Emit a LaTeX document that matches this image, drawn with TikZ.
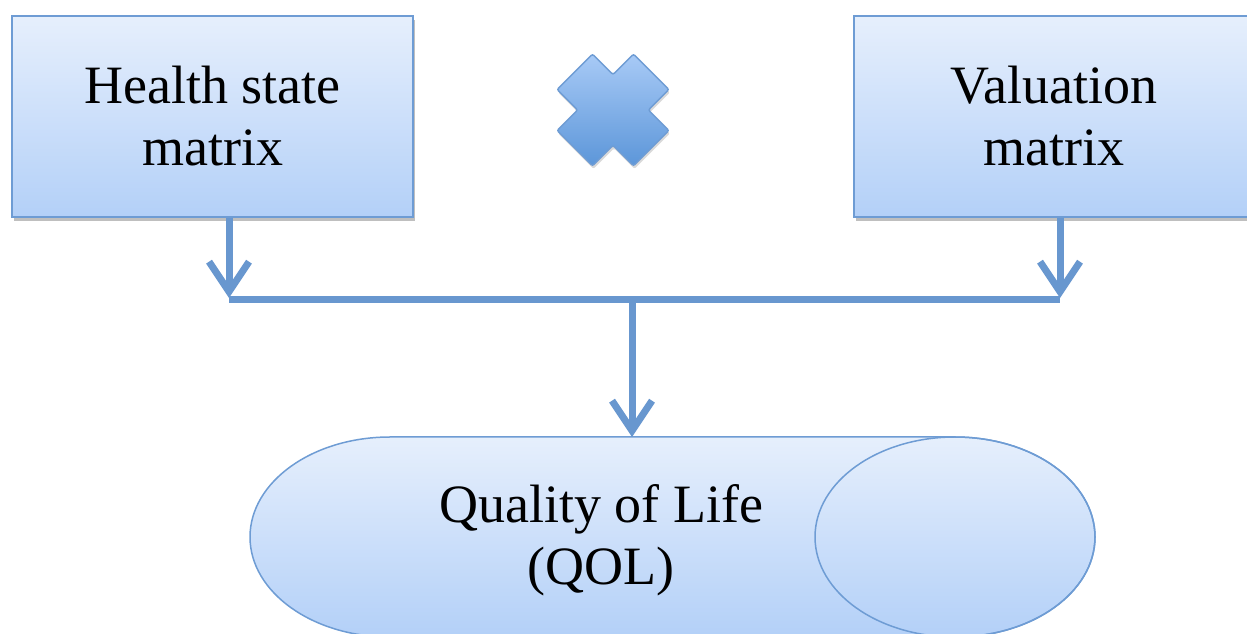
\documentclass[tikz,border=0pt]{standalone}
\usepackage{fontspec}
\setmainfont{Liberation Serif}
\usetikzlibrary{arrows.meta,shadows}
\definecolor{lineblue}{HTML}{6897CF}
\definecolor{edgeblue}{HTML}{6E9CD4}
\definecolor{filltop}{HTML}{E6EFFC}
\definecolor{fillbot}{HTML}{B3D0F8}
\definecolor{crosstop}{HTML}{A8CAF6}
\definecolor{crossbot}{HTML}{5C96D9}
\tikzset{
  matbox/.style={draw=edgeblue, line width=2pt, top color=filltop, bottom color=fillbot,
    drop shadow={shadow xshift=2pt, shadow yshift=-4pt, opacity=0.25, fill=black},
    align=center, font=\fontsize{54}{62}\selectfont},
  lbl/.style={align=center, font=\fontsize{54}{62}\selectfont},
  conn/.style={draw=lineblue, line width=7pt},
  arr/.style={conn, -{Straight Barb[length=30pt,width=40pt]}},
}
\begin{document}
\begin{tikzpicture}[x=1pt,y=1pt]
\useasboundingbox (0,0) rectangle (1247,634);
\fill[white] (0,0) rectangle (1247,634);
% boxes
\node[matbox, minimum width=401pt, minimum height=201pt, inner sep=0pt] (hs) at (212.5,517.5) {Health state\\matrix};
\node[matbox, minimum width=400pt, minimum height=201pt, inner sep=0pt] (vm) at (1054,517.5) {Valuation\\matrix};
% cross
\node[inner sep=0pt, minimum size=1pt] (x) at (613,524) {};
\begin{scope}[shift={(x.center)}]
\shade[top color=crosstop, bottom color=crossbot, draw=edgeblue, line width=1.5pt, rounded corners=2pt,
  drop shadow={shadow xshift=1pt, shadow yshift=-3pt, opacity=0.15, fill=black}]
  (20.5,-55.9) -- (55.9,-20.5) -- (35.4,0) -- (55.9,20.5) -- (20.5,55.9) -- (0,35.4)
  -- (-20.5,55.9) -- (-55.9,20.5) -- (-35.4,0) -- (-55.9,-20.5) -- (-20.5,-55.9) -- (0,-35.4) -- cycle;
\end{scope}
% cylinder
\coordinate (qtop) at (632,197);
\shade[top color=filltop, bottom color=fillbot, draw=edgeblue, line width=1.5pt]
  (390,197) -- (955,197) arc[start angle=90, end angle=-90, x radius=140, y radius=100]
  -- (390,-3) arc[start angle=270, end angle=90, x radius=140, y radius=100] -- cycle;
\draw[edgeblue, line width=1.5pt] (955,97) ellipse[x radius=140, y radius=100];
\node[lbl] (qol) at (601,94) {Quality of Life\\(QOL)};
% connectors
\coordinate (jl) at (229,334);
\coordinate (jr) at (1060,334);
\coordinate (jm) at (632,334);
\draw[conn] (jl) -- (jr);
\draw[arr] (hs.south -| jl) -- ([yshift=2pt]jl);
\draw[arr] (vm.south -| jr) -- ([yshift=2pt]jr);
\draw[arr] (jm) -- (qtop);
\end{tikzpicture}
\end{document}
